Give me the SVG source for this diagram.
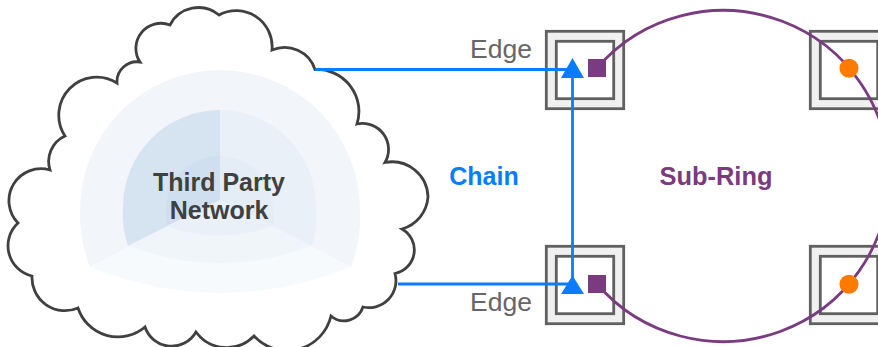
<svg xmlns="http://www.w3.org/2000/svg" width="878" height="347" viewBox="0 0 878 347">
<style>
text{font-family:"Liberation Sans",Arial,sans-serif}
.b{font-weight:bold;text-anchor:middle}
.edge{font-size:26.5px;fill:#666;text-anchor:middle}
.o{fill:#f0f0f0;stroke:#606060;stroke-width:2.8}
.i{fill:#fff;stroke:#606060;stroke-width:2.8}
.bl{fill:none;stroke:#0a7cff;stroke-width:2.8}
.ring{fill:none;stroke:#7a3b80;stroke-width:2.8}
.sq{fill:#7a3b80}
.dot{fill:#ff7a00}
.tri{fill:#0a7cff}
</style>
<g id="third-party-network">
<path d="M315 69.5A42 42 0 0 1 357 124A26 26 0 0 1 385 162.5A36 36 0 0 1 428 197A36 36 0 0 1 402 229A24 24 0 0 1 395 273.5A27 27 0 0 1 363 307A20 20 0 0 1 331 316A45 45 0 0 1 254 336A38 38 0 0 1 196 332A28 28 0 0 1 145 327A42 42 0 0 1 78 308A33 33 0 0 1 32 276A31 31 0 0 1 18 223A32 32 0 0 1 50 170A28 28 0 0 1 65 136A38 38 0 0 1 117 83A20 20 0 0 1 140 62A25 25 0 0 1 170 25A32 32 0 0 1 219 15A36 36 0 0 1 272 50A32 32 0 0 1 315 69.5Z" fill="#fff" stroke="#404040" stroke-width="2.8"/>
<path d="M220 70A140 140 0 0 1 360 210A140 140 0 0 1 351 267L220 200L90 267A140 140 0 0 1 80 210A140 140 0 0 1 220 70Z" fill="#f2f6fb"/>
<path d="M90 267Q220 319 351 267L220 200Z" fill="#f7fafd"/>
<path d="M220 110A97 97 0 0 0 123 207A97 97 0 0 0 128 246L220 200Z" fill="#d6e4f2"/>
<path d="M220 110A96 97 0 0 1 316 207A97 97 0 0 1 312 246L220 200Z" fill="#e9f0f8"/>
<path d="M128 246Q220 280 312 246L220 200Z" fill="#f0f5fa"/>
<path d="M220 156A54 54 0 0 0 166 210A54 54 0 0 0 167 226L220 200Z" fill="#cfdfef"/>
<path d="M220 156A53 54 0 0 1 273 210A54 54 0 0 1 273 226L220 200Z" fill="#e4edf6"/>
<path d="M167 226Q220 245 273 226L220 200Z" fill="#e9f0f8"/>
<text class="b" x="219" y="191" font-size="25" fill="#404040">Third Party</text>
<text class="b" x="219" y="219" font-size="25" fill="#404040">Network</text>
</g>
<g id="node-top-left"><rect class="o" x="546.3" y="31.3" width="77.4" height="77.4"/><rect class="i" x="556.3" y="41.3" width="57.4" height="57.4"/></g>
<g id="node-bottom-left"><rect class="o" x="546.3" y="246.3" width="77.4" height="77.4"/><rect class="i" x="556.3" y="256.3" width="57.4" height="57.4"/></g>
<g id="node-top-right"><rect class="o" x="810.3" y="31.3" width="77.4" height="77.4"/><rect class="i" x="820.3" y="41.3" width="57.4" height="57.4"/></g>
<g id="node-bottom-right"><rect class="o" x="810.3" y="246.3" width="77.4" height="77.4"/><rect class="i" x="820.3" y="256.3" width="57.4" height="57.4"/></g>
<g id="connectors">
<path class="ring" d="M597 68A166 165 0 0 1 889 177.5A166 165 0 0 1 597 284"/>
<path class="bl" d="M315 69.5H572.5M398 284H572.5M572.5 70V284"/>
</g>
<g id="markers">
<path class="tri" d="M572.5 58L584 78H561Z"/>
<path class="tri" d="M572.5 275.5L584 294H561Z"/>
<rect class="sq" x="588" y="59" width="18" height="18"/>
<rect class="sq" x="588" y="275" width="18" height="18"/>
<circle class="dot" cx="849" cy="68.3" r="9.5"/>
<circle class="dot" cx="849" cy="284.3" r="9.5"/>
</g>
<text class="edge" x="501" y="58">Edge</text>
<text class="edge" x="501" y="311">Edge</text>
<text class="b" x="484" y="185" font-size="25" fill="#0a7cff">Chain</text>
<text class="b" x="716" y="185" font-size="25.4" fill="#7a3b80">Sub-Ring</text>
</svg>
